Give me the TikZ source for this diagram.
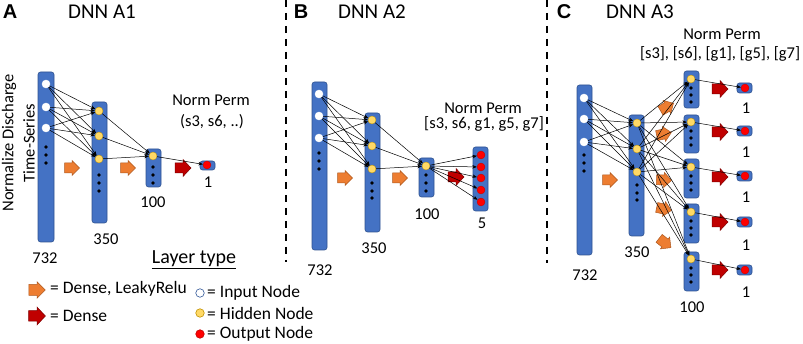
\documentclass[tikz,border=0pt]{standalone}
\usepackage{fontspec}
\setmainfont{Carlito}
\newfontfamily\panelfont{Liberation Sans}
\usetikzlibrary{arrows.meta}
\definecolor{barblue}{HTML}{4472C4}
\definecolor{barline}{HTML}{2F528F}
\definecolor{orangeA}{HTML}{ED7D31}
\definecolor{orangeL}{HTML}{AE5A21}
\definecolor{redA}{HTML}{C00000}
\definecolor{redL}{HTML}{7F0000}
\definecolor{hidY}{HTML}{FFD966}
\definecolor{hidL}{HTML}{BF9000}
\definecolor{outR}{HTML}{FF0000}
\definecolor{legblue}{HTML}{2F5597}
\begin{document}
\begin{tikzpicture}[x=1pt,y=-1pt,
  bar/.style={fill=barblue,draw=barline,line width=0.6pt,rounded corners=2.5pt},
  inn/.style={circle,fill=white,draw=white,minimum size=8pt,inner sep=0pt},
  hid/.style={circle,fill=hidY,draw=hidL,line width=0.3pt,minimum size=8pt,inner sep=0pt},
  outn/.style={circle,fill=outR,draw=redA,line width=0.3pt,minimum size=8pt,inner sep=0pt},
  dotn/.style={circle,fill=black,minimum size=3.6pt,inner sep=0pt},
  conn/.style={-{Stealth[length=4.5pt,width=3.5pt]},line width=0.5pt},
  lbl/.style={font=\fontsize{16.5}{18}\selectfont,inner sep=0pt},
  leg/.style={font=\fontsize{17.5}{20}\selectfont,inner sep=0pt,anchor=west},
  ttl/.style={font=\fontsize{21}{23}\selectfont,inner sep=0pt},
  lttl/.style={font=\fontsize{20}{22}\selectfont,inner sep=0pt},
  panel/.style={font=\panelfont\bfseries\fontsize{20}{22}\selectfont,inner sep=0pt},
  sep/.style={line width=2pt,dash pattern=on 7pt off 6pt},
  oarrow/.pic={\draw[fill=orangeA,draw=orangeL,line width=0.5pt] (-7.5,-5)--(0,-5)--(0,-7.5)--(7.5,0)--(0,7.5)--(0,5)--(-7.5,5)--cycle;},
  rarrow/.pic={\draw[fill=redA,draw=redL,line width=0.5pt] (-8,-5)--(0,-5)--(0,-8.5)--(8,0)--(0,8.5)--(0,5)--(-8,5)--cycle;}
]
\useasboundingbox (0,0) rectangle (803,344);

% separators
\coordinate (s1t) at (286,0); \coordinate (s1b) at (286,262);
\coordinate (s2t) at (547,0); \coordinate (s2b) at (547,263);
\draw[sep] (s1t) -- (s1b);
\draw[sep] (s2t) -- (s2b);

%================ Panel A =================
\node[panel] (pA) at (10,12) {A};
\node[ttl] (tA) at (102,12) {DNN A1};
\node[lbl,rotate=90] (yl1) at (9,143) {Normalize Discharge};
\node[lbl,rotate=90] (yl2) at (29,143) {Time-Series};

\draw[bar] (38,72) rectangle (54,242);
\draw[bar] (92,102) rectangle (107,223);
\draw[bar] (146,149) rectangle (161,187);
\draw[bar] (200,161) rectangle (215,170);

\pic at (72,168) {oarrow};
\pic at (128,168) {oarrow};
\pic at (183,168) {rarrow};

\foreach \y/\n in {84/1,107/2,128/3} \node[inn] (Ai\n) at (46,\y) {};
\foreach \y in {147,155,163} \node[dotn] at (46,\y) {};
\foreach \y/\n in {111/1,136/2,159/3} \node[hid] (Ah\n) at (99,\y) {};
\foreach \y in {175,183,191} \node[dotn] at (99,\y) {};
\node[hid] (Ak) at (153,156) {};
\foreach \y in {167,175,183} \node[dotn] at (153,\y) {};
\node[outn] (Ao) at (207,165) {};

\foreach \i in {1,2,3} \foreach \j in {1,2,3} \draw[conn] (Ai\i) -- (Ah\j);
\foreach \j in {1,2,3} \draw[conn] (Ah\j) -- (Ak);
\draw[conn] (Ak) -- (Ao);

\node[lbl] (Anp) at (211,100) {Norm Perm};
\node[lbl] (Anp2) at (212,122) {(s3, s6, ..)};
\node[lbl] (A1) at (208,182) {1};
\node[lbl] (A100) at (153,202) {100};
\node[lbl] (A350) at (106,239) {350};
\node[lbl] (A732) at (45,258) {732};

%================ Panel B =================
\node[panel] (pB) at (301,12) {B};
\node[ttl] (tB) at (372,12) {DNN A2};

\draw[bar] (312,82) rectangle (327,250);
\draw[bar] (365,113) rectangle (380,232);
\draw[bar] (419,158) rectangle (434,197);
\draw[bar] (473,147) rectangle (488,211);

\pic at (345,178) {oarrow};
\pic at (400,178) {oarrow};
\pic at (456,177) {rarrow};

\foreach \y/\n in {94/1,116/2,138/3} \node[inn] (Bi\n) at (319,\y) {};
\foreach \y in {153,161,169} \node[dotn] at (319,\y) {};
\foreach \y/\n in {120/1,146/2,169/3} \node[hid] (Bh\n) at (372,\y) {};
\foreach \y in {183,191,198} \node[dotn] at (372,\y) {};
\node[hid] (Bk) at (426,166) {};
\foreach \y in {175,183,191} \node[dotn] at (426,\y) {};
\foreach \y/\n in {155/1,167/2,178/3,190/4,202/5} \node[outn] (Bo\n) at (481,\y) {};

\foreach \i in {1,2,3} \foreach \j in {1,2,3} \draw[conn] (Bi\i) -- (Bh\j);
\foreach \j in {1,2,3} \draw[conn] (Bh\j) -- (Bk);
\foreach \j in {1,...,5} \draw[conn] (Bk) -- (Bo\j);

\node[lbl] (Bnp) at (483,108) {Norm Perm};
\node[lbl] (Bnp2) at (484,124) {[s3, s6, g1, g5, g7]};
\node[lbl] (B5) at (482,223) {5};
\node[lbl] (B100) at (427,214) {100};
\node[lbl] (B350) at (374,248) {350};
\node[lbl] (B732) at (320,270) {732};

%================ Panel C =================
\node[panel] (pC) at (564,12) {C};
\node[ttl] (tC) at (640,12) {DNN A3};
\node[lbl] (Cnp) at (722,34) {Norm Perm};
\node[lbl] (Cnp2) at (720,54) {[s3], [s6], [g1], [g5], [g7]};

\draw[bar] (577,85) rectangle (592,255);
\draw[bar] (629,115) rectangle (644,236);
\foreach \a/\b in {71/108,115/153,159/198,204/243,252/291}
  \draw[bar] (684,\a) rectangle (699,\b);
\foreach \c in {88,131,176,222,270}
  \draw[bar] (737,\c-5) rectangle (752,\c+5);

\pic at (610,180) {oarrow};
\pic[rotate=30] at (667,107) {oarrow};
\pic[rotate=12] at (664,134) {oarrow};
\pic[rotate=-3] at (664,180) {oarrow};
\pic[rotate=-12] at (664,209) {oarrow};
\pic[rotate=-38] at (665,243) {oarrow};
\foreach \c in {89,132,177,222,270} \pic at (720,\c) {rarrow};

\foreach \y/\n in {98/1,119/2,142/3} \node[inn] (Ci\n) at (584,\y) {};
\foreach \y in {155,163,171} \node[dotn] at (584,\y) {};
\foreach \y/\n in {123/1,149/2,172/3} \node[hid] (Ch\n) at (637,\y) {};
\foreach \y in {185,193,200} \node[dotn] at (637,\y) {};
\foreach \y/\n in {79/1,122/2,167/3,212/4,259/5} {
  \node[hid] (Ck\n) at (691,\y) {};
  \foreach \d in {9,16,23} \node[dotn] at (691,\y+\d) {};
}
\foreach \y/\n in {88/1,131/2,176/3,222/4,270/5} \node[outn] (Co\n) at (745,\y) {};

\foreach \i in {1,2,3} \foreach \j in {1,2,3} \draw[conn] (Ci\i) -- (Ch\j);
\foreach \i in {1,2,3} \foreach \j in {1,...,5} \draw[conn] (Ch\i) -- (Ck\j);
\foreach \j in {1,...,5} \draw[conn] (Ck\j) -- (Co\j);

\foreach \y/\n in {108/1,152/2,197/3,245/4,292/5} \node[lbl] (C1\n) at (746,\y) {1};
\node[lbl] (C732) at (585,275) {732};
\node[lbl] (C350) at (637,252) {350};
\node[lbl] (C100) at (692,307) {100};

%================ Legend =================
\node[lttl] (lt) at (194,260) {\underline{Layer type}};
\pic[scale=1.1] at (37,290) {oarrow};
\pic[scale=1.05] at (37,316) {rarrow};
\node[leg] (l1) at (50,289) {= Dense, LeakyRelu};
\node[leg] (l2) at (50,316) {= Dense};
\node[circle,fill=white,draw=legblue,line width=0.6pt,minimum size=8.5pt,inner sep=0pt] (c1) at (200,293) {};
\node[circle,fill=hidY,draw=hidL,line width=0.6pt,minimum size=8.5pt,inner sep=0pt] (c2) at (200,313) {};
\node[circle,fill=outR,draw=redA,line width=0.6pt,minimum size=8.5pt,inner sep=0pt] (c3) at (200,334) {};
\node[leg] (l3) at (207,293) {= Input Node};
\node[leg] (l4) at (207,313) {= Hidden Node};
\node[leg] (l5) at (207,334) {= Output Node};
\end{tikzpicture}
\end{document}
